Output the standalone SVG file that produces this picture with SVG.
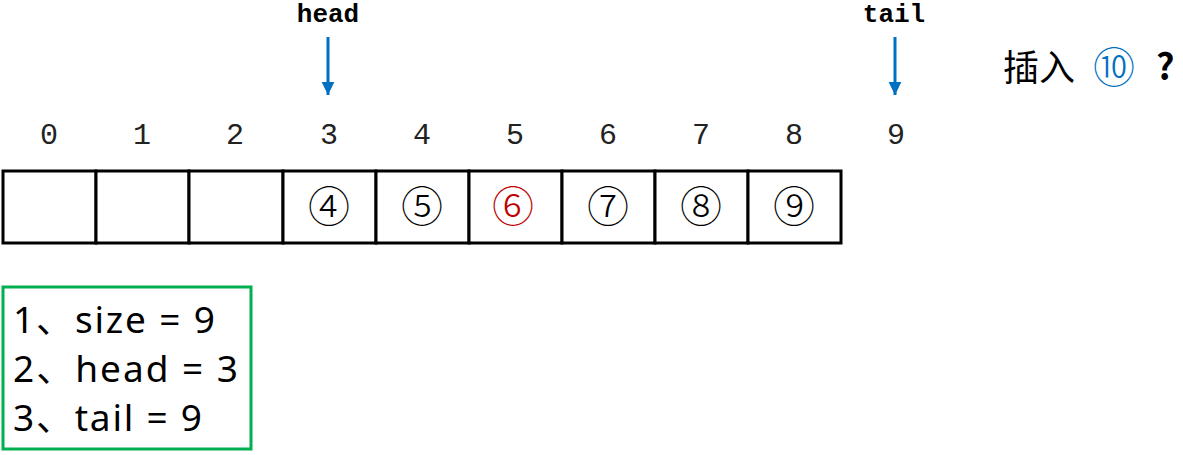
<svg xmlns="http://www.w3.org/2000/svg" width="1183" height="455" viewBox="0 0 1183 455">
<defs>
<marker id="ah" markerWidth="5" markerHeight="5" refX="4.5" refY="2.2" orient="auto" markerUnits="strokeWidth">
<path d="M0,0 L4.5,2.2 L0,4.4 Z" fill="#0070C0"/>
</marker>
<style>
.idx{font-family:"Liberation Mono",monospace;font-size:30px;fill:#222;text-anchor:middle}
.ptr{font-family:"Liberation Mono",monospace;font-size:26px;font-weight:bold;fill:#000;text-anchor:middle}
.cell{fill:#fff;stroke:#000;stroke-width:3}
.num{font-family:"Noto Sans CJK SC",serif;font-size:42px;font-weight:300;fill:#000;text-anchor:middle}
.arrow{stroke:#0070C0;stroke-width:3;fill:none}
.info{font-family:"Noto Sans","Noto Sans CJK SC",sans-serif;font-size:37px;fill:#000}
.q{font-family:"Noto Sans CJK SC",serif;font-size:36px;fill:#000}
</style>
</defs>
<rect width="1183" height="455" fill="#fff"/>
<g id="pointers">
<text class="ptr" x="328" y="22">head</text>
<text class="ptr" x="894" y="22">tail</text>
</g>
<g id="connectors">
<line class="arrow" x1="328" y1="37" x2="328" y2="95" marker-end="url(#ah)"/>
<line class="arrow" x1="895" y1="37" x2="895" y2="95" marker-end="url(#ah)"/>
</g>
<g id="question">
<text class="q" x="1003" y="81">插入</text>
<text class="q" x="1114" y="83" text-anchor="middle" style="fill:#0070C0;font-size:42px;font-weight:300">⑩</text>
<text class="q" x="1156" y="80" font-family="Liberation Serif,serif" font-weight="bold">?</text>
</g>
<g id="indices">
<text class="idx" x="49" y="144">0</text>
<text class="idx" x="142" y="144">1</text>
<text class="idx" x="235" y="144">2</text>
<text class="idx" x="329" y="144">3</text>
<text class="idx" x="422" y="144">4</text>
<text class="idx" x="515" y="144">5</text>
<text class="idx" x="608" y="144">6</text>
<text class="idx" x="701" y="144">7</text>
<text class="idx" x="794" y="144">8</text>
<text class="idx" x="896" y="144">9</text>
</g>
<g id="array">
<rect class="cell" x="3" y="171" width="93" height="72"/>
<rect class="cell" x="96" y="171" width="93" height="72"/>
<rect class="cell" x="189" y="171" width="94" height="72"/>
<rect class="cell" x="283" y="171" width="93" height="72"/>
<rect class="cell" x="376" y="171" width="93" height="72"/>
<rect class="cell" x="469" y="171" width="93" height="72"/>
<rect class="cell" x="562" y="171" width="93" height="72"/>
<rect class="cell" x="655" y="171" width="93" height="72"/>
<rect class="cell" x="748" y="171" width="93" height="72"/>
<text class="num" x="329" y="222">④</text>
<text class="num" x="422" y="222">⑤</text>
<text class="num" x="513" y="222" style="fill:#C00000">⑥</text>
<text class="num" x="608" y="222">⑦</text>
<text class="num" x="701" y="222">⑧</text>
<text class="num" x="794" y="222">⑨</text>
</g>
<g id="info">
<rect x="3" y="287" width="248" height="162" fill="none" stroke="#00B050" stroke-width="3"/>
<text class="info" x="13" y="333" textLength="202" lengthAdjust="spacing">1、size = 9</text>
<text class="info" x="13" y="382" textLength="225" lengthAdjust="spacing">2、head = 3</text>
<text class="info" x="13" y="431" textLength="189" lengthAdjust="spacing">3、tail = 9</text>
</g>
</svg>
